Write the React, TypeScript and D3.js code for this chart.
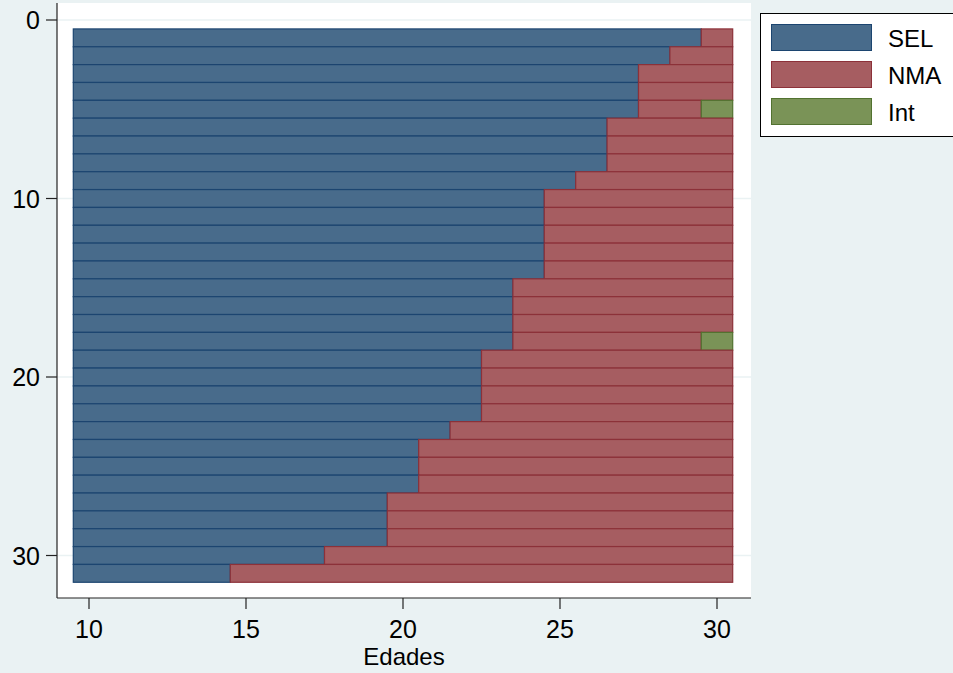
import React from "react";
import * as d3 from "d3";

const rows = d3.range(1, 32);
const selEnd = [29.5, 28.5, 27.5, 27.5, 27.5, 26.5, 26.5, 26.5, 25.5, 24.5, 24.5, 24.5, 24.5, 24.5, 23.5, 23.5, 23.5, 23.5, 22.5, 22.5, 22.5, 22.5, 21.5, 20.5, 20.5, 20.5, 19.5, 19.5, 19.5, 17.5, 14.5];
const intRows = [5, 18];
const barStart = 9.5;
const barEnd = 30.5;
const xTicks = [10, 15, 20, 25, 30];
const yTicks = [0, 10, 20, 30];
const legendLabels = ["SEL", "NMA", "Int"];

const fills = { SEL: "#486b8b", NMA: "#a65d61", Int: "#7a9357" };
const strokes = { SEL: "#1c4570", NMA: "#8c3139", Int: "#527230" };
const FONT = "'Liberation Sans', Arial, sans-serif";

export default function App() {
  const W = 953, H = 673;
  const plot = { left: 57, right: 751, top: 3, bottom: 598 };
  const x = d3.scaleLinear().domain([10, 30]).range([89, 717]);
  const y = d3.scaleLinear().domain([0, 30]).range([20, 555.5]);

  const segs: { row: number; k: string; x0: number; x1: number }[] = [];
  rows.forEach((r, i) => {
    const hasInt = intRows.includes(r);
    segs.push({ row: r, k: "SEL", x0: barStart, x1: selEnd[i] });
    segs.push({ row: r, k: "NMA", x0: selEnd[i], x1: hasInt ? barEnd - 1 : barEnd });
    if (hasInt) segs.push({ row: r, k: "Int", x0: barEnd - 1, x1: barEnd });
  });

  return (
    <svg width={W} height={H} style={{ position: "absolute", left: 0, top: 0, display: "block" }} fontFamily={FONT}>
      <rect x={0} y={0} width={W} height={H} fill="#eaf2f3" />
      <rect x={plot.left} y={plot.top} width={plot.right - plot.left} height={plot.bottom - plot.top} fill="#ffffff" />
      {yTicks.map((t) => (
        <line key={"g" + t} x1={plot.left} x2={plot.right} y1={y(t)} y2={y(t)} stroke="#eaf2f3" strokeWidth={1.5} />
      ))}
      {segs.map((s, i) => (
        <rect
          key={i}
          x={x(s.x0)}
          y={y(s.row - 0.5)}
          width={x(s.x1) - x(s.x0)}
          height={y(s.row + 0.5) - y(s.row - 0.5)}
          fill={(fills as any)[s.k]}
          stroke={(strokes as any)[s.k]}
          strokeWidth={1.2}
        />
      ))}
      <line x1={plot.left} x2={plot.left} y1={plot.top} y2={plot.bottom} stroke="#222" strokeWidth={1.2} />
      <line x1={plot.left} x2={plot.right} y1={plot.bottom} y2={plot.bottom} stroke="#222" strokeWidth={1.2} />
      {yTicks.map((t) => (
        <g key={"yt" + t}>
          <line x1={plot.left - 11} x2={plot.left} y1={y(t)} y2={y(t)} stroke="#222" strokeWidth={1.2} />
          <text x={plot.left - 17} y={y(t)} dy="0.36em" textAnchor="end" fontSize={25} fill="#000">{t}</text>
        </g>
      ))}
      {xTicks.map((t) => (
        <g key={"xt" + t}>
          <line x1={x(t)} x2={x(t)} y1={plot.bottom} y2={plot.bottom + 11} stroke="#222" strokeWidth={1.2} />
          <text x={x(t)} y={638} textAnchor="middle" fontSize={25} fill="#000">{t}</text>
        </g>
      ))}
      <text x={(plot.left + plot.right) / 2} y={665} textAnchor="middle" fontSize={24} fill="#000">Edades</text>
      <rect x={760.5} y={13.5} width={200} height={123} fill="#fff" stroke="#000" strokeWidth={1} />
      {legendLabels.map((l, i) => (
        <g key={l}>
          <rect x={771.5} y={24.5 + i * 37} width={100} height={26} fill={(fills as any)[l]} stroke={(strokes as any)[l]} strokeWidth={1} />
          <text x={888} y={38.5 + i * 37} dy="0.36em" fontSize={24} fill="#000">{l}</text>
        </g>
      ))}
    </svg>
  );
}
